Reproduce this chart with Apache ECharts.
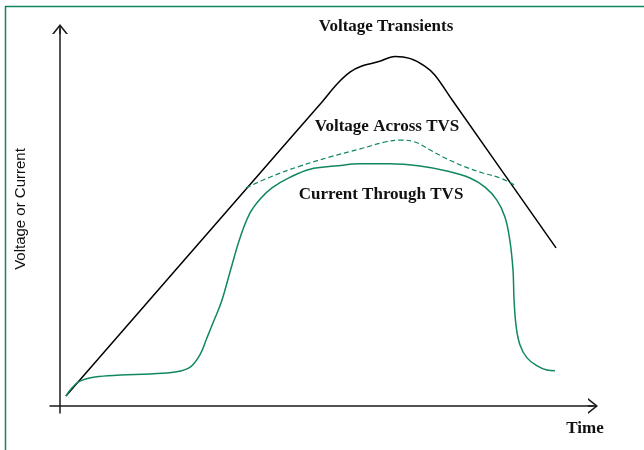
<!DOCTYPE html>
<html>
<head>
<meta charset="utf-8">
<script src="https://cdn.jsdelivr.net/npm/echarts@6/dist/echarts.min.js"></script>
<style>html,body{margin:0;padding:0;background:#fff;}#c{width:644px;height:450px;}</style>
</head>
<body>
<div id="c"></div>
<script>
// Data (arbitrary units: time 0..100, amplitude 0..100)
var voltageTransient = [
  [1.1, 2.6], [34.4, 56.5], [48.7, 79.6], [51.5, 84.3], [53.9, 87.4], [56.1, 89.0],
  [59.1, 90.1], [62.3, 91.5], [65.0, 91.0], [67.8, 89.0], [69.7, 86.6],
  [72.9, 80.1], [92.2, 41.4]
];
var voltageAcrossTVS = [
  [34.6, 57.1], [39.0, 59.9], [44.6, 62.8], [50.2, 65.2], [55.8, 67.3], [60.4, 69.1],
  [63.2, 69.6], [66.0, 69.1], [68.8, 67.0], [71.9, 64.7], [75.3, 62.6], [78.6, 61.0],
  [81.8, 59.7], [84.4, 57.9]
];
var currentThroughTVS = [
  [1.1, 2.6], [2.2, 4.7], [3.7, 6.5], [6.5, 7.6], [11.2, 8.1], [16.7, 8.4], [21.4, 8.9],
  [24.2, 10.2], [26.0, 13.4], [27.3, 17.8], [28.6, 22.3], [30.1, 27.7], [31.6, 35.1],
  [33.5, 44.2], [35.3, 50.5], [37.2, 54.2], [39.4, 57.1], [42.8, 59.9], [46.5, 62.0],
  [51.1, 62.8], [55.8, 63.4], [61.3, 63.4], [66.9, 62.8], [71.9, 61.5], [76.2, 59.7],
  [79.0, 57.3], [81.2, 53.9], [82.7, 49.5], [83.6, 43.5], [84.2, 35.6], [84.4, 27.7],
  [84.8, 20.7], [85.5, 16.0], [86.8, 12.6], [88.7, 10.5], [90.5, 9.4], [92.0, 9.2]
];
var labels = {
  transient: 'Voltage Transients',
  across: 'Voltage Across TVS',
  current: 'Current Through TVS',
  xName: 'Time',
  yName: 'Voltage or Current'
};

var GREEN = '#11885c';
var AXIS = '#1a1a1a';
var chevron = 'path://M0,10 L8,0 L16,10 L14,10 L8,2.4 L2,10 Z M7.3,1 L8.7,1 L8.7,10 L7.3,10 Z';

var chart = echarts.init(document.getElementById('c'), null, {renderer: 'canvas'});
var serif = '"Liberation Serif", "Times New Roman", serif';
chart.setOption({
  animation: false,
  backgroundColor: '#ffffff',
  grid: {left: 50, right: 51, top: 29, bottom: 37, containLabel: false},
  xAxis: {
    type: 'value', min: -1.86, max: 99.07,
    axisLine: {show: true, onZero: true, lineStyle: {color: AXIS, width: 1.5},
      symbol: ['none', chevron], symbolSize: [16, 10]},
    axisTick: {show: false}, axisLabel: {show: false}, splitLine: {show: false}
  },
  yAxis: {
    type: 'value', min: -1.83, max: 98.69,
    axisLine: {show: true, onZero: true, lineStyle: {color: AXIS, width: 1.5},
      symbol: ['none', chevron], symbolSize: [16, 10]},
    axisTick: {show: false}, axisLabel: {show: false}, splitLine: {show: false}
  },
  series: [
    {type: 'line', data: voltageTransient, smooth: 0.35, showSymbol: false,
      lineStyle: {color: '#000', width: 1.5}},
    {type: 'line', data: voltageAcrossTVS, smooth: 0.4, showSymbol: false,
      lineStyle: {color: GREEN, width: 1.2, type: [5, 3]}},
    {type: 'line', data: currentThroughTVS, smooth: 0.4, showSymbol: false,
      lineStyle: {color: GREEN, width: 1.5}}
  ],
  graphic: [
    {type: 'rect', shape: {x: 5.5, y: 6.5, width: 720, height: 520}, silent: true,
      style: {fill: 'none', stroke: GREEN, lineWidth: 1.5}},
    {type: 'text', x: 386, y: 27, style: {text: labels.transient, font: 'bold 17px ' + serif,
      fill: '#111', align: 'center', verticalAlign: 'middle'}},
    {type: 'text', x: 387, y: 127, style: {text: labels.across, font: 'bold 17px ' + serif,
      fill: '#111', align: 'center', verticalAlign: 'middle'}},
    {type: 'text', x: 381, y: 195, style: {text: labels.current, font: 'bold 17px ' + serif,
      fill: '#111', align: 'center', verticalAlign: 'middle'}},
    {type: 'text', x: 585, y: 429, style: {text: labels.xName, font: 'bold 17px ' + serif,
      fill: '#111', align: 'center', verticalAlign: 'middle'}},
    {type: 'text', x: 21, y: 209, rotation: Math.PI / 2, style: {text: labels.yName,
      font: '15px "Liberation Sans", Arial, sans-serif', fill: '#111', align: 'center', verticalAlign: 'middle'}}
  ]
});
</script>
</body>
</html>
